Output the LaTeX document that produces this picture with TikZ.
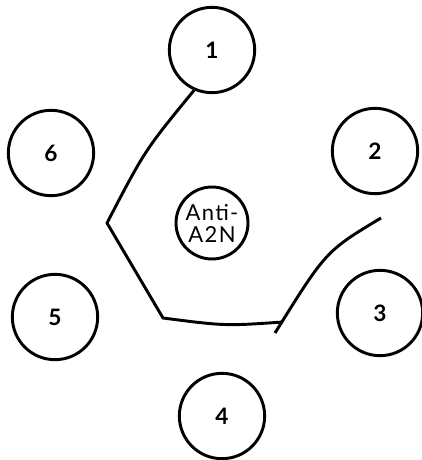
\documentclass[tikz,border=0pt]{standalone}
\usepackage{fontspec}
\setmainfont{Lato}
\newfontfamily\widefont[LetterSpace=6]{Lato}
\tikzset{every picture/.style={line width=2.2pt}}
\tikzset{well/.style={circle, draw, minimum size=64pt, inner sep=0pt, font=\fontsize{17}{19}\selectfont\bfseries}}

\begin{document}
\begin{tikzpicture}[x=0.75pt,y=0.75pt,yscale=-1,xscale=1]
\useasboundingbox (0,0) rectangle (421,460);

% Outer wells
\node [well] (w1) at (212,50) {1};
\node [well] (w2) at (375,151) {2};
\node [well] (w3) at (380,313) {3};
\node [well] (w4) at (222,416) {4};
\node [well] (w5) at (55,317) {5};
\node [well] (w6) at (51,153) {6};

% Centre well
\node [well, minimum size=54pt, font=\widefont\fontsize{16.5}{16.5}\selectfont, align=center] (anti) at (212,223) {Anti-\\A2N};

% Free ends of the lines
\coordinate (bend) at (107,223);
\coordinate (corner) at (163,318);
\coordinate (meet) at (283,322);
\coordinate (low) at (275,333);
\coordinate (high) at (381,218);

%Curved Lines
\draw [line join=round] (w1.246) .. controls (145,150) .. (bend) -- (corner) .. controls (225,326) .. (meet) ;
\draw    (low) .. controls (326,251) .. (high) ;

\end{tikzpicture}
\end{document}
